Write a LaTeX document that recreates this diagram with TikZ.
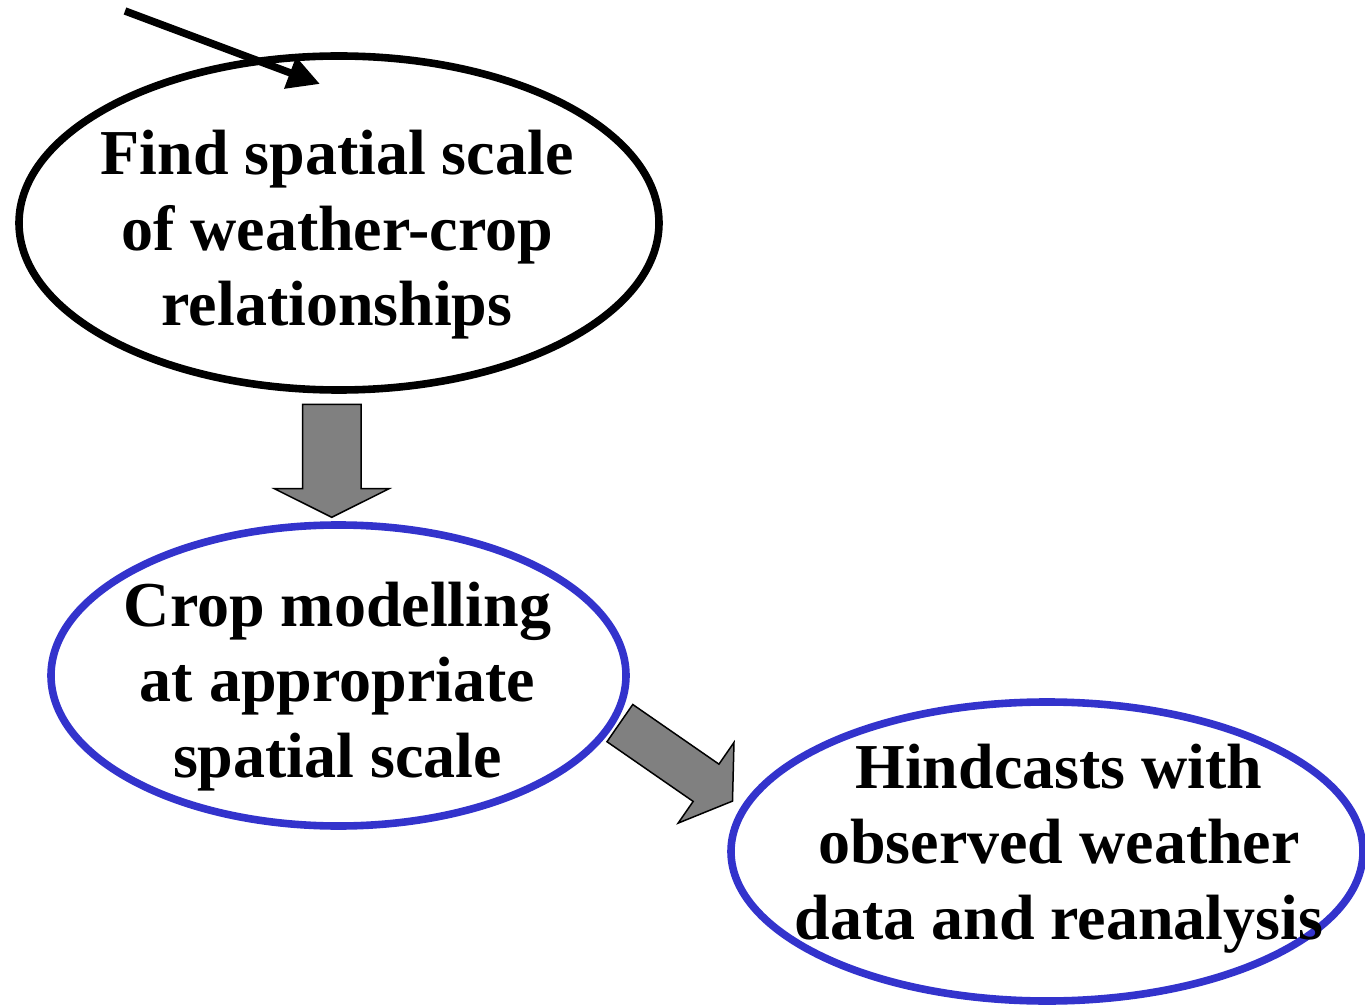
\documentclass[tikz,border=0pt]{standalone}
\usepackage{fontspec}
\setmainfont{Liberation Serif}
\usepackage{xcolor}
\usepackage{tikz}
\usetikzlibrary{shapes,shapes.arrows,arrows.meta,calc,positioning}
\definecolor{ovalblue}{RGB}{51,51,204}
\definecolor{arrowgrey}{RGB}{128,128,128}
\tikzset{bubble/.style={ellipse, draw=#1, line width=3.8pt, fill=none, inner sep=0pt, outer sep=0pt},
bubble/.default={black},
bubbletext/.style={align=center, inner sep=0pt, font=\bfseries\fontsize{32}{37.75}\selectfont},
blockarrow/.style={single arrow, draw=black, fill=arrowgrey, line width=0.75pt, inner xsep=0pt, outer sep=0pt}}

\begin{document}
\begin{tikzpicture}[x=0.5pt,y=-0.5pt]

\useasboundingbox (0,0) rectangle (1365,1005);

% the three ovals

    \node[bubble, minimum width=320pt, minimum height=167pt] (find) at (339,223) {};
    \node[bubble=ovalblue, minimum width=287.5pt, minimum height=150.5pt] (crop) at (338.5,675.5) {};
    \node[bubble=ovalblue, minimum width=316pt, minimum height=149.5pt] (hind) at (1047,851.5) {};

    \node[bubbletext] (findtxt) at ($(find)+(-2,12)$) {Find spatial scale\\of weather-crop\\relationships};
    \node[bubbletext] (croptxt) at ($(crop)+(-1,11)$) {Crop modelling\\at appropriate\\spatial scale};
    \node[bubbletext] (hindtxt) at ($(hind)+(12,-3)$) {Hindcasts with\\observed weather\\data and reanalysis};

% the block arrows

    \node[blockarrow, minimum height=56.5pt, inner ysep=14.25pt, single arrow head extend=14pt,
    single arrow tip angle=127, rotate=-90] (down) at ($(find.south)!0.5!(crop.north)+(-7,-4)$) {};
    \node[blockarrow, minimum height=68.5pt, inner ysep=10.95pt, single arrow head extend=13.2pt,
    single arrow tip angle=113.5, rotate=-34.7] (slant) at ($(crop)!0.468!(hind)$) {};

% the pointer at the top

    \coordinate (tail) at (125,11);
    \coordinate (tip) at (320,84);
    \draw[line width=3.75pt, -{Triangle[length=16pt,width=16pt]}] (tail) -- (tip);

\end{tikzpicture}
\end{document}
